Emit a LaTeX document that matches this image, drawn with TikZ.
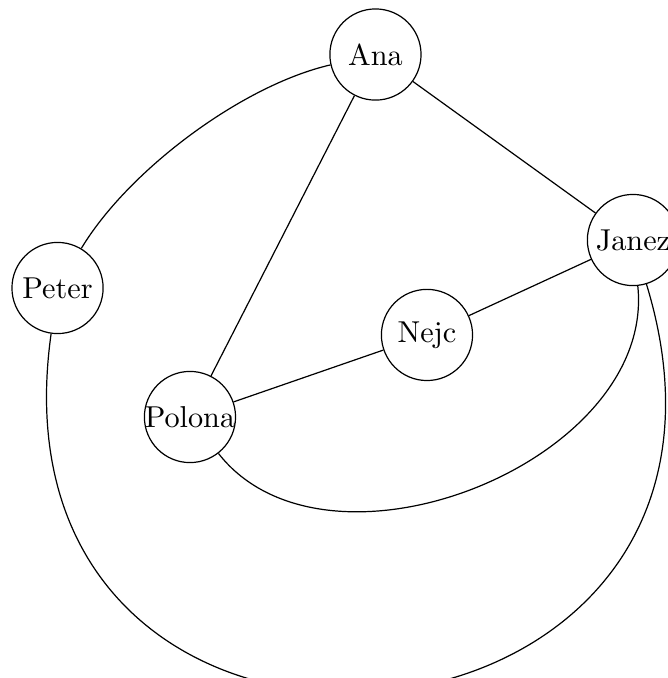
\documentclass[tikz,border=0pt]{standalone}
\tikzset{person/.style={draw, circle, minimum size=1.06cm, inner sep=0pt}}
\newcommand{\who}[1]{\makebox[0pt]{#1}}

\begin{document}
\begin{tikzpicture}

	\useasboundingbox (0,0) rectangle (7.767,-7.884);

	% Define nodes
	\node[person] (ana)    at (4.366,-0.634) {\who{Ana}};
	\node[person] (janez)  at (7.360,-2.791) {\who{Janez}};
	\node[person] (peter)  at (0.669,-3.349) {\who{Peter}};
	\node[person] (nejc)   at (4.965,-3.895) {\who{Nejc}};
	\node[person] (polona) at (2.209,-4.849) {\who{Polona}};

	% Connect the nodes
	\draw (ana) -- (polona);
	\draw (ana) -- (janez);
	\draw (janez) -- (nejc);
	\draw (nejc) -- (polona);
	\draw (ana) to[out=193, in=59, looseness=0.75] (peter);
	\draw (polona) to[out=308, in=276, looseness=1.0] (janez);
	\draw (peter) to[out=262, in=287, looseness=2.25] (janez);

\end{tikzpicture}
\end{document}
